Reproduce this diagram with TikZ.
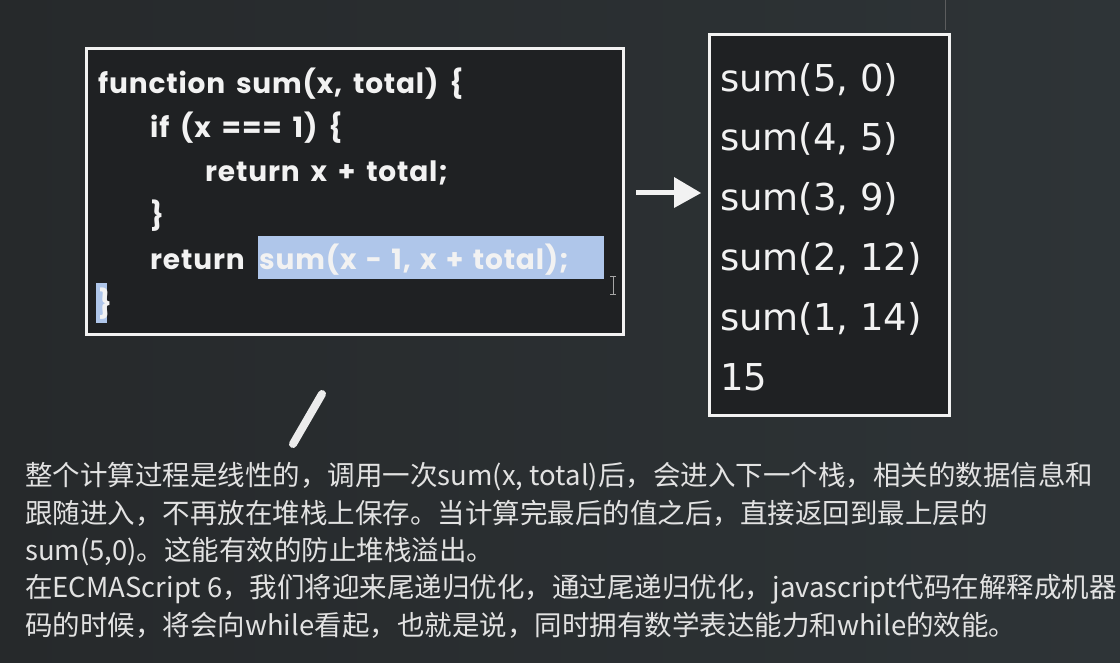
\documentclass[tikz,border=0pt]{standalone}
\usepackage{fontspec}
\setmainfont{DejaVu Sans}
\newfontfamily\codefont{Poppins}[LetterSpace=3,WordSpace=1.6]
\newfontfamily\cjk{Noto Sans CJK SC}
\definecolor{board}{HTML}{26292B}
\definecolor{boardr}{HTML}{2E3437}
\definecolor{boxin}{HTML}{1F2123}
\definecolor{chalk}{HTML}{F2F2F2}
\definecolor{hl}{HTML}{AFC6EA}
\definecolor{notetext}{HTML}{E2E2E2}
\tikzset{
  chalkbox/.style={draw=chalk, line width=3pt, fill=boxin},
  codeline/.style={anchor=base west, inner sep=0pt, text=chalk, font=\codefont\bfseries\fontsize{28}{32}\selectfont},
  stackline/.style={anchor=base west, inner sep=0pt, text=chalk, font=\fontsize{37}{44}\selectfont},
  noteline/.style={anchor=base west, inner sep=0pt, text=notetext, font=\cjk\fontsize{27.5}{32}\selectfont},
  hlnode/.style={fill=hl, text height=33pt, text depth=10pt, inner ysep=0pt, inner xsep=1pt, text width=344pt, align=left}
}
\begin{document}
\begin{tikzpicture}[x=1pt,y=-1pt]
\useasboundingbox (0,0) rectangle (1120,662);
\shade[left color=board, right color=boardr] (0,0) rectangle (1120,662);
% faint line top right
\draw[color=gray!60!board, line width=1pt] (945,0) -- (945,30);
% code box
\node[chalkbox, minimum width=537pt, minimum height=286pt, anchor=north west, inner sep=0pt] (code) at (85,47) {};
\fill[hl] (96,283) rectangle (107,323);
\node[codeline] (c1) at (98,93) {function sum(x, total) \{};
\node[codeline] (c2) at (150,137) {if (x === 1) \{};
\node[codeline] (c3) at (205,181) {return x + total;};
\node[codeline] (c4) at (150,225) {\}};
\node[codeline] (c5) at (150,269) {return};
\node[codeline, hlnode] (c5b) at (258,269) {sum(x - 1, x + total);};
\node[codeline] (c6) at (98,313) {\}};
% I-beam cursor
\draw[color=gray!70, line width=1pt] (613,276) -- (613,294) (610,276) -- (616,276) (610,294) -- (616,294);
% stack box
\node[chalkbox, minimum width=240pt, minimum height=381pt, anchor=north west, inner sep=0pt] (stack) at (708,33) {};
\node[stackline] (s1) at (720,91) {sum(5, 0)};
\node[stackline] (s2) at (720,150) {sum(4, 5)};
\node[stackline] (s3) at (720,210) {sum(3, 9)};
\node[stackline] (s4) at (720,270) {sum(2, 12)};
\node[stackline] (s5) at (720,330) {sum(1, 14)};
\node[stackline] (s6) at (720,390) {15};
% arrow
\coordinate (arrS) at (636,192);
\coordinate (arrE) at (676,192);
\draw[chalk, line width=5pt] (arrS) -- (arrE);
\fill[chalk] (674,177) -- (701,193) -- (674,208) -- cycle;
% chalk stick
\draw[color=chalk!95!gray, line width=8pt, line cap=round] (322,394) -- (293,444);
% notes
\node[noteline] (n1) at (25,485) {整个计算过程是线性的，调用一次sum(x, total)后，会进入下一个栈，相关的数据信息和};
\node[noteline] (n2) at (25,523) {跟随进入，不再放在堆栈上保存。当计算完最后的值之后，直接返回到最上层的};
\node[noteline] (n3) at (25,560) {sum(5,0)。这能有效的防止堆栈溢出。};
\node[noteline] (n4) at (25,597) {在ECMAScript 6，我们将迎来尾递归优化，通过尾递归优化，javascript代码在解释成机器};
\node[noteline] (n5) at (25,635) {码的时候，将会向while看起，也就是说，同时拥有数学表达能力和while的效能。};
\end{tikzpicture}
\end{document}
